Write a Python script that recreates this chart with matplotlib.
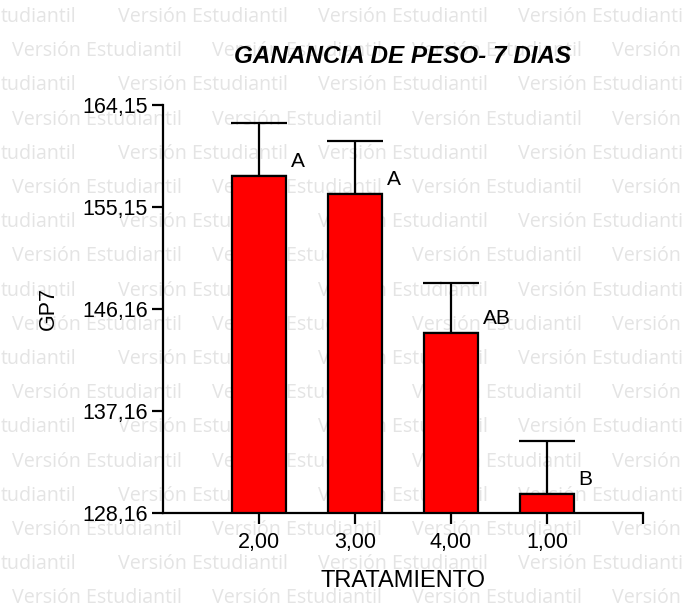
import matplotlib
matplotlib.use("Agg")
import matplotlib.pyplot as plt

categories = ["2,00", "3,00", "4,00", "1,00"]
means = [157.88, 156.29, 144.03, 129.84]
errors = [4.70, 4.67, 4.41, 4.67]
letters = ["A", "A", "AB", "B"]
yticks = [128.16, 137.16, 146.16, 155.15, 164.15]
ytick_labels = ["128,16", "137,16", "146,16", "155,15", "164,15"]

W, H = 686, 610
fig = plt.figure(figsize=(W / 100, H / 100), dpi=100)
fig.patch.set_facecolor("white")

# watermark
wm = "Versión Estudiantil"
even_row = [(1, "tudiantil"), (118, wm), (318, wm), (518, "Versión Estudianti")]
odd_row = [(12, wm), (212, wm), (412, wm), (612, "Versión")]
for i in range(18):
    yc = 17 + 34.2 * i
    for x, s in (even_row if i % 2 == 0 else odd_row):
        fig.text(x / W, 1 - yc / H, s, fontsize=14.1, family="Open Sans",
                 color="#e4e4e4", ha="left", va="center", zorder=-5)

ax = fig.add_axes([163 / W, 1 - 513 / H, (643 - 163) / W, (513 - 105) / H])
ax.patch.set_alpha(0)

x = list(range(len(categories)))
ax.bar(x, [m - yticks[0] for m in means], bottom=yticks[0], width=0.56,
       color="#ff0000", edgecolor="black", linewidth=1.6, zorder=3)
ax.errorbar(x, means, yerr=[[0] * len(errors), errors], fmt="none",
            ecolor="black", elinewidth=1.6, capsize=20, capthick=1.6, zorder=2)
for xi, m, lab in zip(x, means, letters):
    ax.text(xi + 0.33, m + 1.3, lab, fontsize=15, family="Liberation Sans",
            ha="left", va="center")

ax.set_xlim(-1, 4)
ax.set_ylim(yticks[0], yticks[-1])
ax.set_xticks(x + [4])
ax.set_xticklabels(categories + [""], fontsize=15.5, family="Liberation Sans")
ax.set_yticks(yticks)
ax.set_yticklabels(ytick_labels, fontsize=15.5, family="Liberation Sans")
for s in ["top", "right"]:
    ax.spines[s].set_visible(False)
for s in ["left", "bottom"]:
    ax.spines[s].set_linewidth(1.6)
ax.tick_params(axis="both", length=8, width=1.6, direction="out")
ax.tick_params(axis="x", pad=6)
ax.tick_params(axis="y", pad=3)

ax.set_xlabel("TRATAMIENTO", fontsize=17, family="Liberation Sans", labelpad=12)
ax.set_ylabel("GP7", fontsize=15.5, family="Liberation Sans", labelpad=17)
ax.set_title("GANANCIA DE PESO- 7 DIAS", fontsize=17.5, family="Liberation Sans",
             fontweight="bold", fontstyle="italic", pad=30)

fig.savefig("out.png", dpi=100)
